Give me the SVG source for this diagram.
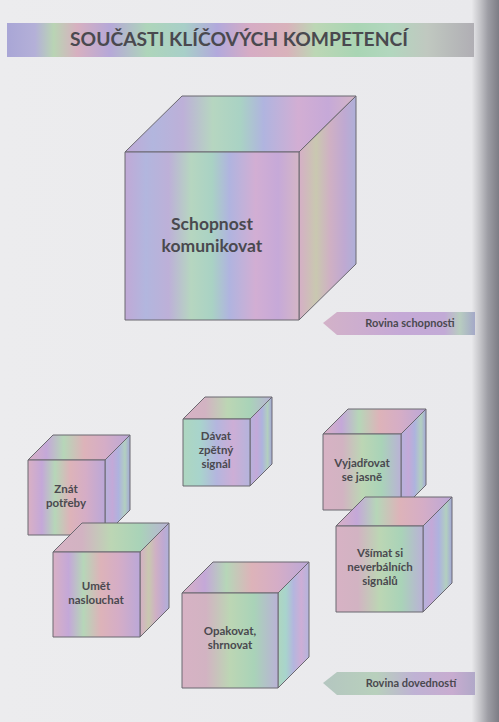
<svg xmlns="http://www.w3.org/2000/svg" width="499" height="722" viewBox="0 0 499 722">
<defs>
<linearGradient id="page" x1="0" y1="0" x2="1" y2="0">
<stop offset="0" stop-color="#ececee"/><stop offset="0.945" stop-color="#e9e9ec"/><stop offset="0.96" stop-color="#c9c9cd"/><stop offset="0.978" stop-color="#9d9da4"/><stop offset="1" stop-color="#7d7d85"/>
</linearGradient>
<linearGradient id="title" x1="0" y1="0" x2="1" y2="0">
<stop offset="0" stop-color="#a9a6d6"/><stop offset="0.06" stop-color="#b4b0d8"/><stop offset="0.1" stop-color="#b9d4b4"/><stop offset="0.15" stop-color="#d7b0c0"/><stop offset="0.22" stop-color="#b6a8d8"/><stop offset="0.3" stop-color="#aed5ba"/><stop offset="0.38" stop-color="#a8cfc8"/><stop offset="0.45" stop-color="#b2a9dc"/><stop offset="0.52" stop-color="#d6acc4"/><stop offset="0.6" stop-color="#d9b2bb"/><stop offset="0.66" stop-color="#bcd7b5"/><stop offset="0.75" stop-color="#a9d5b4"/><stop offset="0.82" stop-color="#b2d7be"/><stop offset="0.9" stop-color="#c0c8c0"/><stop offset="1" stop-color="#b0aeb4"/>
</linearGradient>
<linearGradient id="gA" x1="0" y1="0" x2="1" y2="0">
<stop offset="0" stop-color="#c0a9d6"/><stop offset="0.12" stop-color="#b2b6de"/><stop offset="0.25" stop-color="#bdb0d8"/><stop offset="0.38" stop-color="#b6d6c0"/><stop offset="0.5" stop-color="#a9d2c4"/><stop offset="0.6" stop-color="#b0b4df"/><stop offset="0.75" stop-color="#d2aed3"/><stop offset="0.88" stop-color="#c6a9d8"/><stop offset="1" stop-color="#d4b6c6"/>
</linearGradient>
<linearGradient id="gB" x1="0" y1="0" x2="1" y2="0">
<stop offset="0" stop-color="#d5afc6"/><stop offset="0.3" stop-color="#c9c8b0"/><stop offset="0.55" stop-color="#cfb0c4"/><stop offset="0.8" stop-color="#bfa9d2"/><stop offset="1" stop-color="#aeb0d8"/>
</linearGradient>
<linearGradient id="gC" x1="0" y1="0" x2="1" y2="0">
<stop offset="0" stop-color="#d9b0c4"/><stop offset="0.18" stop-color="#c4a8d8"/><stop offset="0.35" stop-color="#b6d6b8"/><stop offset="0.55" stop-color="#ddb3b9"/><stop offset="0.75" stop-color="#d5adc6"/><stop offset="1" stop-color="#bba8d8"/>
</linearGradient>
<linearGradient id="gD" x1="0" y1="0" x2="1" y2="0">
<stop offset="0" stop-color="#aed6c0"/><stop offset="0.25" stop-color="#a8d4cc"/><stop offset="0.5" stop-color="#b4b6de"/><stop offset="0.75" stop-color="#cdaed6"/><stop offset="1" stop-color="#b4b4dc"/>
</linearGradient>
<linearGradient id="gE" x1="0" y1="0" x2="1" y2="0">
<stop offset="0" stop-color="#b6b2dc"/><stop offset="0.3" stop-color="#c3a9d8"/><stop offset="0.55" stop-color="#aeb3de"/><stop offset="0.8" stop-color="#b2cfc0"/><stop offset="1" stop-color="#a4a8d8"/>
</linearGradient>
<linearGradient id="gF" x1="0" y1="0" x2="1" y2="0">
<stop offset="0" stop-color="#d7b2c4"/><stop offset="0.25" stop-color="#d2b3c2"/><stop offset="0.5" stop-color="#bcd6b4"/><stop offset="0.75" stop-color="#a9d3b8"/><stop offset="1" stop-color="#bab2d6"/>
</linearGradient>
<linearGradient id="arrow1" x1="0" y1="0" x2="1" y2="0">
<stop offset="0" stop-color="#d3b2c8"/><stop offset="0.5" stop-color="#c5a9d6"/><stop offset="0.8" stop-color="#c2aad6"/><stop offset="0.9" stop-color="#b8cdc0"/><stop offset="1" stop-color="#a4a8c8"/>
</linearGradient>
<linearGradient id="arrow2" x1="0" y1="0" x2="1" y2="0">
<stop offset="0" stop-color="#b4c6c0"/><stop offset="0.35" stop-color="#b8d0bc"/><stop offset="0.6" stop-color="#bfb2d4"/><stop offset="0.85" stop-color="#c8acd0"/><stop offset="1" stop-color="#b0a8c8"/>
</linearGradient>
</defs>
<style>
.edge{stroke:#6b6870;stroke-width:1;stroke-linejoin:round}
.lbl{font-family:Lato,"Open Sans","DejaVu Sans",sans-serif;font-weight:bold;fill:#4a494f;text-anchor:middle}
.s{font-size:11.5px}
.tag{font-family:Lato,"Open Sans","DejaVu Sans",sans-serif;font-weight:bold;fill:#4a494f;font-size:11px;text-anchor:middle}
</style>
<rect x="0" y="0" width="499" height="722" fill="url(#page)"/>
<g id="title-bar">
<rect x="7" y="23" width="467" height="34" fill="url(#title)"/>
<text x="239" y="46" class="lbl" font-size="19" textLength="338" lengthAdjust="spacingAndGlyphs">SOUČASTI KLÍČOVÝCH KOMPETENCÍ</text>
</g>
<g id="schopnost-komunikovat">
<polygon class="edge" points="125,152 182,96 356,96 299,152" fill="url(#gA)"/>
<polygon class="edge" points="299,152 356,96 356,264 299,320" fill="url(#gB)"/>
<rect class="edge" x="125" y="152" width="174" height="168" fill="url(#gA)"/>
<text class="lbl" font-size="17.5" x="212" y="230">Schopnost</text>
<text class="lbl" font-size="17.5" x="212" y="252">komunikovat</text>
</g>
<g id="rovina-schopnosti">
<polygon points="323,323 337,312 475,312 475,335 337,335" fill="url(#arrow1)"/>
<text class="tag" x="410" y="327">Rovina schopnosti</text>
</g>
<g id="znat-potreby">
<polygon class="edge" points="28,460 53,435 130,435 105,460" fill="url(#gC)"/>
<polygon class="edge" points="105,460 130,435 130,510 105,535" fill="url(#gE)"/>
<rect class="edge" x="28" y="460" width="77" height="75" fill="url(#gC)"/>
<text class="lbl s" x="66" y="493">Znát</text>
<text class="lbl s" x="66" y="507">potřeby</text>
</g>
<g id="umet-naslouchat">
<polygon class="edge" points="53,552 82,523 169,523 140,552" fill="url(#gF)"/>
<polygon class="edge" points="140,552 169,523 169,608 140,637" fill="url(#gB)"/>
<rect class="edge" x="53" y="552" width="87" height="85" fill="url(#gC)"/>
<text class="lbl s" x="96" y="590">Umět</text>
<text class="lbl s" x="96" y="604">naslouchat</text>
</g>
<g id="davat-zpetny-signal">
<polygon class="edge" points="183,419 205,397 272,397 250,419" fill="url(#gF)"/>
<polygon class="edge" points="250,419 272,397 272,464 250,486" fill="url(#gE)"/>
<rect class="edge" x="183" y="419" width="67" height="67" fill="url(#gD)"/>
<text class="lbl s" x="216" y="440">Dávat</text>
<text class="lbl s" x="216" y="454">zpětný</text>
<text class="lbl s" x="216" y="468">signál</text>
</g>
<g id="vyjadrovat-se-jasne">
<polygon class="edge" points="323,434 348,409 426,409 401,434" fill="url(#gC)"/>
<polygon class="edge" points="401,434 426,409 426,485 401,510" fill="url(#gE)"/>
<rect class="edge" x="323" y="434" width="78" height="76" fill="url(#gF)"/>
<text class="lbl s" x="362" y="467">Vyjadřovat</text>
<text class="lbl s" x="362" y="481">se jasně</text>
</g>
<g id="vsimat-si-neverbalnich-signalu">
<polygon class="edge" points="336,526 365,497 452,497 423,526" fill="url(#gC)"/>
<polygon class="edge" points="423,526 452,497 452,583 423,612" fill="url(#gE)"/>
<rect class="edge" x="336" y="526" width="87" height="86" fill="url(#gF)"/>
<text class="lbl s" x="380" y="557">Všímat si</text>
<text class="lbl s" x="380" y="571">neverbálních</text>
<text class="lbl s" x="380" y="585">signálů</text>
</g>
<g id="opakovat-shrnovat">
<polygon class="edge" points="182,593 213,562 309,562 278,593" fill="url(#gC)"/>
<polygon class="edge" points="278,593 309,562 309,657 278,688" fill="url(#gD)"/>
<rect class="edge" x="182" y="593" width="96" height="95" fill="url(#gF)"/>
<text class="lbl s" x="230" y="635">Opakovat,</text>
<text class="lbl s" x="230" y="649">shrnovat</text>
</g>
<g id="rovina-dovednosti">
<polygon points="323,683 337,672 475,672 475,695 337,695" fill="url(#arrow2)"/>
<text class="tag" x="411" y="687">Rovina dovedností</text>
</g>
</svg>
